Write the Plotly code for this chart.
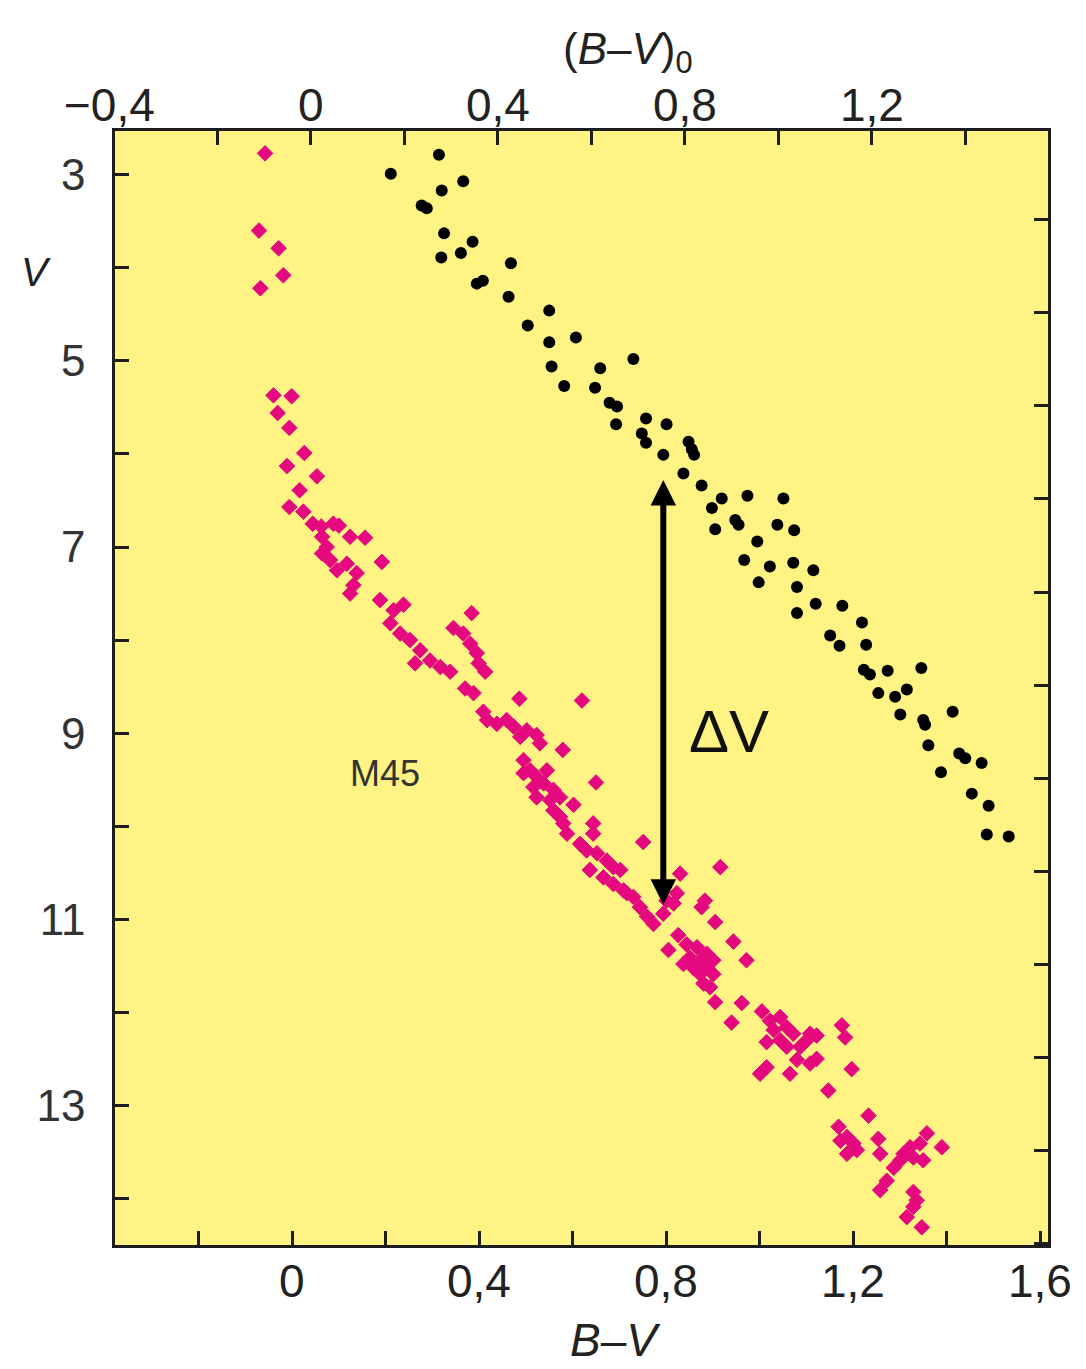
import plotly.graph_objects as go

# ---------------- data ----------------
# M45 (Pleiades) stars, B-V colour and V magnitude
pink_bv = [-0.058, -0.071, -0.029, -0.019, -0.068,
           -0.040, -0.001, -0.031, -0.006, 0.026, -0.011, 0.053, 0.016, -0.006, 0.024,
           0.044, 0.062, 0.088, 0.100,
           0.064, 0.074, 0.124, 0.156, 0.064, 0.081, 0.117, 0.138, 0.192, 0.131, 0.124, 0.096,
           0.188, 0.217, 0.238, 0.384,
           0.210, 0.231, 0.252, 0.274, 0.295, 0.317, 0.338, 0.263,
           0.345, 0.366, 0.381, 0.395, 0.399, 0.413, 0.370, 0.388,
           0.486, 0.620,
           0.409, 0.417, 0.438, 0.459, 0.474, 0.488, 0.502, 0.523, 0.530, 0.579,
           0.495, 0.509, 0.495, 0.523, 0.545, 0.516, 0.538, 0.523, 0.559, 0.552, 0.573, 0.602,
           0.559, 0.573, 0.580, 0.588,
           0.650, 0.644, 0.644,
           0.616, 0.630, 0.652, 0.673, 0.687, 0.702, 0.637, 0.751, 0.666, 0.716,
           0.687, 0.709, 0.730, 0.744, 0.759, 0.773, 0.794, 0.801,
           0.830, 0.823, 0.816, 0.916, 0.883, 0.876, 0.905, 0.944, 0.972,
           0.826, 0.805,
           0.844, 0.866, 0.887, 0.851, 0.873, 0.901, 0.837, 0.858, 0.887, 0.873, 0.901, 0.880, 0.894,
           0.905, 0.962, 0.940,
           1.005, 1.022, 1.044, 1.058, 1.030, 1.015, 1.044, 1.072, 1.058, 1.087, 1.101, 1.108, 1.122,
           1.080, 1.108, 1.065, 1.001, 1.015, 1.122,
           1.176, 1.183, 1.197, 1.147, 1.233,
           1.169, 1.187, 1.173, 1.201, 1.187, 1.208, 1.254, 1.258,
           1.358, 1.343, 1.322, 1.308, 1.301, 1.287, 1.329, 1.350, 1.390,
           1.272, 1.258, 1.329, 1.336, 1.329, 1.315, 1.347]
pink_v = [2.77, 3.60, 3.79, 4.08, 4.22,
          5.37, 5.38, 5.56, 5.72, 5.99, 6.13, 6.24, 6.39, 6.57, 6.62,
          6.75, 6.78, 6.75, 6.77,
          6.89, 7.00, 6.89, 6.90, 7.07, 7.14, 7.18, 7.28, 7.16, 7.41, 7.50, 7.25,
          7.57, 7.68, 7.62, 7.71,
          7.82, 7.93, 8.00, 8.11, 8.22, 8.29, 8.34, 8.25,
          7.87, 7.93, 8.04, 8.14, 8.25, 8.34, 8.52, 8.57,
          8.63, 8.65,
          8.77, 8.86, 8.90, 8.86, 8.93, 9.04, 8.97, 9.02, 9.11, 9.18,
          9.29, 9.40, 9.43, 9.47, 9.40, 9.58, 9.54, 9.69, 9.61, 9.72, 9.69, 9.77,
          9.83, 9.90, 9.97, 10.08,
          9.53, 9.97, 10.08,
          10.19, 10.26, 10.29, 10.37, 10.44, 10.47, 10.47, 10.17, 10.55, 10.72,
          10.62, 10.69, 10.76, 10.87, 10.97, 11.05, 10.94, 10.80,
          10.51, 10.72, 10.83, 10.44, 10.80, 10.87, 11.03, 11.24, 11.44,
          11.17, 11.33,
          11.27, 11.30, 11.37, 11.41, 11.44, 11.44, 11.48, 11.52, 11.52, 11.59, 11.59, 11.69, 11.73,
          11.89, 11.90, 12.11,
          11.99, 12.09, 12.05, 12.16, 12.19, 12.32, 12.30, 12.23, 12.37, 12.37, 12.30, 12.23, 12.25,
          12.51, 12.55, 12.66, 12.66, 12.59, 12.50,
          12.14, 12.27, 12.61, 12.84, 13.11,
          13.23, 13.34, 13.38, 13.41, 13.52, 13.48, 13.36, 13.52,
          13.30, 13.41, 13.45, 13.52, 13.59, 13.67, 13.56, 13.59, 13.45,
          13.81, 13.91, 13.93, 14.02, 14.09, 14.20, 14.31]

# reference cluster (black dots)
black_bv = [0.211, 0.314, 0.366, 0.320, 0.277, 0.288, 0.325, 0.386, 0.319, 0.361, 0.468,
            0.395, 0.408, 0.463, 0.550, 0.504, 0.550, 0.607, 0.730, 0.555, 0.659, 0.582,
            0.648, 0.679, 0.695, 0.693, 0.757, 0.801, 0.748, 0.757, 0.794, 0.848, 0.855,
            0.860, 0.837, 0.876, 0.919, 0.974, 1.051, 0.898, 0.948, 0.955, 1.038, 1.074,
            0.905, 0.995, 0.967, 1.022, 1.072, 1.115, 0.998, 1.080, 1.120, 1.177, 1.080,
            1.151, 1.171, 1.219, 1.228, 1.223, 1.236, 1.274, 1.346, 1.254, 1.290, 1.315,
            1.301, 1.350, 1.354, 1.413, 1.361, 1.427, 1.440, 1.475, 1.388, 1.454, 1.490,
            1.486, 1.533]
black_v = [2.99, 2.785, 3.07, 3.17, 3.33, 3.36, 3.63, 3.72, 3.89, 3.84, 3.95,
           4.17, 4.14, 4.31, 4.46, 4.62, 4.80, 4.75, 4.98, 5.06, 5.08, 5.27,
           5.29, 5.45, 5.49, 5.68, 5.62, 5.68, 5.78, 5.88, 6.01, 5.87, 5.95,
           6.01, 6.21, 6.34, 6.48, 6.45, 6.48, 6.58, 6.71, 6.76, 6.76, 6.82,
           6.81, 6.94, 7.14, 7.21, 7.17, 7.25, 7.38, 7.43, 7.61, 7.63, 7.71,
           7.95, 8.06, 7.81, 8.05, 8.32, 8.37, 8.33, 8.30, 8.57, 8.61, 8.53,
           8.80, 8.86, 8.91, 8.77, 9.13, 9.22, 9.27, 9.32, 9.42, 9.65, 9.78,
           10.09, 10.11]

# axis ticks and tick labels
bottom_tickvals = [-0.2, 0.0, 0.2, 0.4, 0.6, 0.8, 1.0, 1.2, 1.4, 1.6]
bottom_label_vals = [0.0, 0.4, 0.8, 1.2, 1.6]
bottom_label_text = ["0", "0,4", "0,8", "1,2", "1,6"]
top_tickvals = [-0.2, 0.0, 0.2, 0.4, 0.6, 0.8, 1.0, 1.2, 1.4]
top_label_vals = [-0.4, 0.0, 0.4, 0.8, 1.2, 1.6]
top_label_text = ["\u22120,4", "0", "0,4", "0,8", "1,2", "1,6"]
left_tickvals = [3, 4, 5, 6, 7, 8, 9, 10, 11, 12, 13, 14]
left_ticktext = ["3", "", "5", "", "7", "", "9", "", "11", "", "13", ""]
right_tickvals = [3, 4, 5, 6, 7, 8, 9, 10, 11, 12, 13, 14]

# axis ranges
x_range = [-0.379, 1.617]
reddening = 0.04          # (B-V)0 = (B-V) - E(B-V)
v_range = [14.5, 2.53]
right_offset = 0.484      # shift of the right-hand magnitude scale

# Delta-V arrow
arrow_bv = 0.794
arrow_top_v = 6.28
arrow_bottom_v = 10.86

PINK = "#E5097F"
YELLOW = "#FFF383"
AXC = "#1e1e1e"
FONT = "Liberation Sans, Arial, Helvetica, sans-serif"
XSIZE = 46

fig = go.Figure()
fig.add_trace(go.Scatter(
    x=pink_bv, y=pink_v, mode="markers",
    marker=dict(symbol="diamond", size=12, color=PINK, line=dict(color=PINK, width=1)),
    showlegend=False, hoverinfo="x+y"))
fig.add_trace(go.Scatter(
    x=black_bv, y=black_v, mode="markers",
    marker=dict(symbol="circle", size=12, color="black", line=dict(width=0)),
    showlegend=False, hoverinfo="x+y"))
# dummy trace to instantiate the secondary axes
fig.add_trace(go.Scatter(x=[None], y=[None], xaxis="x2", yaxis="y2",
                         showlegend=False, hoverinfo="skip"))

common = dict(showgrid=False, zeroline=False, ticks="inside", ticklen=14, tickwidth=2.5,
              tickcolor=AXC, showline=True, linecolor=AXC, linewidth=2.5, automargin=False)

# the page body adds an 8px offset, so the figure is 8px smaller and shifted margins
fig.update_layout(
    width=1078, height=1361,
    margin=dict(l=107, r=38, t=123, b=124, autoexpand=False),
    paper_bgcolor="white", plot_bgcolor=YELLOW,
    xaxis=dict(range=x_range, tickvals=bottom_tickvals, showticklabels=False, **common),
    xaxis2=dict(range=[x_range[0] - reddening, x_range[1] - reddening], overlaying="x",
                side="top", anchor="y", tickvals=top_tickvals, showticklabels=False,
                **common),
    yaxis=dict(range=v_range, tickvals=left_tickvals, ticktext=left_ticktext,
               tickfont=dict(family=FONT, size=44, color="#333"), ticklabelstandoff=18,
               **common),
    yaxis2=dict(range=[v_range[0] - right_offset, v_range[1] - right_offset],
                overlaying="y", side="right", anchor="x", tickvals=right_tickvals,
                showticklabels=False, **common),
)

annos = []
for val, txt in zip(top_label_vals, top_label_text):
    annos.append(dict(x=val, y=1, xref="x2", yref="paper", text=txt, showarrow=False,
                      xanchor="center", yanchor="middle", yshift=26,
                      xshift=-14 if txt.startswith("\u2212") else 0,
                      font=dict(family=FONT, size=XSIZE, color="#222")))
for val, txt in zip(bottom_label_vals, bottom_label_text):
    annos.append(dict(x=val, y=0, xref="x", yref="paper", text=txt, showarrow=False,
                      xanchor="center", yanchor="middle", yshift=-36,
                      font=dict(family=FONT, size=XSIZE, color="#222")))
annos += [
    # axis titles
    dict(x=0.55, y=1.071, xref="paper", yref="paper", xanchor="center", yanchor="middle",
         text="(<i>B</i>\u2013<i>V</i>)<sub>0</sub>", showarrow=False,
         font=dict(family=FONT, size=44, color="#222")),
    dict(x=0.536, y=-0.085, xref="paper", yref="paper", xanchor="center", yanchor="middle",
         text="<i>B</i>\u2013<i>V</i>", showarrow=False,
         font=dict(family=FONT, size=46, color="#222")),
    dict(x=-0.085, y=0.873, xref="paper", yref="paper", xanchor="center", yanchor="middle",
         text="<i>V</i>", showarrow=False,
         font=dict(family=FONT, size=40, color="#222")),
    # labels inside plot
    dict(x=0.199, y=9.43, xref="x", yref="y", text="M45", showarrow=False,
         font=dict(family=FONT, size=36, color="#333")),
    dict(x=0.935, y=8.98, xref="x", yref="y", text="\u0394V", showarrow=False,
         font=dict(family=FONT, size=60, color="#111")),
    # Delta V double arrow
    dict(x=arrow_bv, y=arrow_top_v, ax=arrow_bv, ay=arrow_bottom_v,
         xref="x", yref="y", axref="x", ayref="y", text="",
         showarrow=True, arrowside="end+start", arrowhead=2, startarrowhead=2,
         arrowsize=0.85, startarrowsize=0.85, arrowwidth=6, arrowcolor="black"),
]
fig.update_layout(annotations=annos)

fig.write_html("out.html")
